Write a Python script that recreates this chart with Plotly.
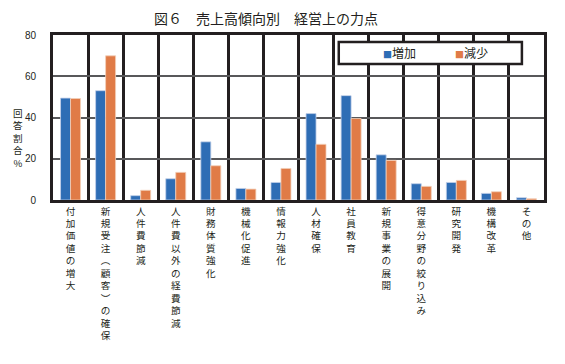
import plotly.graph_objects as go

categories = ["付加価値の増大", "新規受注︵顧客︶の確保", "人件費節減", "人件費以外の経費節減",
              "財務体質強化", "機械化促進", "情報力強化", "人材確保", "社員教育",
              "新規事業の展開", "得意分野の絞り込み", "研究開発", "機構改革", "その他"]
increase = [49.4, 53.0, 2.1, 10.3, 28.2, 5.6, 8.5, 41.9, 50.6, 21.9, 7.9, 8.5, 3.2, 1.1]
decrease = [49.2, 69.9, 4.7, 13.4, 16.6, 5.3, 15.3, 27.0, 39.5, 19.2, 6.6, 9.5, 4.0, 0.6]
series_names = ["増加", "減少"]
y_ticks = [0, 20, 40, 60, 80]

BLUE = "#2E6DB5"
ORANGE = "#E07B47"
JP = "Noto Sans CJK JP"
NUM = "Liberation Sans Narrow, Liberation Sans, Arial"

fig = go.Figure()
fig.add_trace(go.Bar(x=categories, y=increase, name=series_names[0], marker_color=BLUE,
                     marker_line=dict(color="#C3D1EA", width=0.8)))
fig.add_trace(go.Bar(x=categories, y=decrease, name=series_names[1], marker_color=ORANGE,
                     marker_line=dict(color="#F3CFB9", width=0.8)))

ticktext = ["<br>".join(list(c)) for c in categories]

# page body has an 8px default margin, so the figure is sized/offset for it
fig.update_layout(
    width=557, height=356,
    margin=dict(l=45, r=21, t=27, b=164, autoexpand=False),
    paper_bgcolor="white", plot_bgcolor="white",
    barmode="group", bargap=0.43, bargroupgap=0,
    font=dict(family=JP, color="#231F20"),
    title=dict(text="図６　売上高傾向別　経営上の力点", x=0.463, xanchor="center",
               y=0.969, yanchor="middle", font=dict(family=JP, size=14, color="#231F20")),
    showlegend=False,
)
fig.update_xaxes(
    type="category", tickmode="array", tickvals=categories, ticktext=ticktext,
    tickangle=0, tickfont=dict(family=JP, size=9.6, color="#231F20"),
    showgrid=True, gridcolor="#231F20", gridwidth=2.5, tickson="boundaries",
    showline=True, linecolor="#231F20", linewidth=3, mirror=True, ticks="",
    automargin=False,
)
fig.update_yaxes(
    range=[0, 80], tickvals=y_ticks, tickfont=dict(family=NUM, size=10, color="#231F20"),
    showgrid=True, gridcolor="#58585A", gridwidth=2,
    showline=True, linecolor="#231F20", linewidth=3, mirror=True,
    zeroline=False, ticks="", ticklabelstandoff=12, automargin=False,
)
fig.add_annotation(text="回<br>答<br>割<br>合<br>%", xref="paper", yref="paper",
                   x=-0.071, y=0.376, xanchor="center", yanchor="middle", showarrow=False,
                   font=dict(family=JP, size=9.6, color="#231F20"))
# legend (text entries with coloured squares) and its frame
for nm, col, lx in zip(series_names, [BLUE, ORANGE], [0.668, 0.814]):
    fig.add_annotation(text=f"<span style='color:{col};font-size:9px'>■</span>{nm}",
                       xref="paper", yref="paper", x=lx, y=0.893, xanchor="left",
                       yanchor="middle", showarrow=False,
                       font=dict(family=JP, size=12, color="#231F20"))
fig.add_shape(type="rect", xref="paper", yref="paper", x0=0.582, x1=0.955, y0=0.825, y1=0.958,
              line=dict(color="#231F20", width=2.5), fillcolor="white", layer="above")

fig.write_html("out.html")
